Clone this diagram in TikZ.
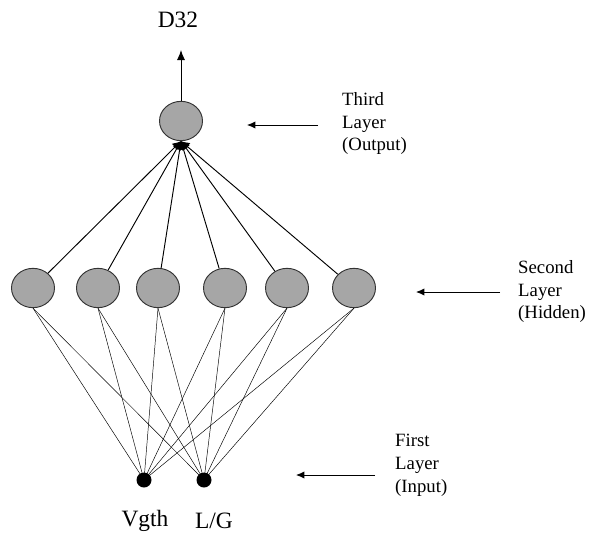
\documentclass[tikz,border=0pt]{standalone}
\usepackage{fontspec}
\setmainfont{Liberation Serif}
\usetikzlibrary{shapes.geometric,arrows.meta}

\begin{document}
\begin{tikzpicture}[x=0.03cm,y=-0.03cm]
        \tikzstyle{neuron}=[ellipse,draw=black!80,fill=black!35,thick,minimum width=1.29cm,minimum height=1.18cm,inner sep=0pt]
        \tikzstyle{input}=[circle,fill=black,minimum size=0.45cm,inner sep=0pt]
        \tikzstyle{layertext}=[anchor=north west,align=left,inner sep=0pt,font=\fontsize{16}{19.5}\selectfont]
        \tikzstyle{bigtext}=[font=\fontsize{20}{24}\selectfont]

      \useasboundingbox (0,0) rectangle (590,535);

      \begin{scope}
         % output layer
         \node[neuron] (o1) at (181,121) {};
         \coordinate (out) at (181,50);
         \node[bigtext] (d32) at (178,20) {D32};
         \draw[thick,-{Latex[length=3mm,width=2.4mm]}] (o1) to (out);

         % hidden layer
         \node[neuron] (h1) at (33,288)  {};
         \node[neuron] (h2) at (98,288)  {};
         \node[neuron] (h3) at (158,288) {};
         \node[neuron] (h4) at (225,288) {};
         \node[neuron] (h5) at (287,288) {};
         \node[neuron] (h6) at (354,288) {};

         % input layer
         \node[input] (i1) at (144,480) {};
         \node[input] (i2) at (204,480) {};
         \node[bigtext] (vgth) at (145,521) {Vgth};
         \node[bigtext] (lg)   at (214,521) {L/G};

         \draw[thick,-{Latex[length=2.5mm,width=2.8mm]}] (h1) to (o1.south);
         \draw[thick,-{Latex[length=2.5mm,width=2.8mm]}] (h2) to (o1.south);
         \draw[thick,-{Latex[length=2.5mm,width=2.8mm]}] (h3) to (o1.south);
         \draw[thick,-{Latex[length=2.5mm,width=2.8mm]}] (h4) to (o1.south);
         \draw[thick,-{Latex[length=2.5mm,width=2.8mm]}] (h5) to (o1.south);
         \draw[thick,-{Latex[length=2.5mm,width=2.8mm]}] (h6) to (o1.south);

         \draw (i1.center) to (h1.south);
         \draw (i1.center) to (h2.south);
         \draw (i1.center) to (h3.south);
         \draw (i1.center) to (h4.south);
         \draw (i1.center) to (h5.south);
         \draw (i1.center) to (h6.south);
         \draw (i2.center) to (h1.south);
         \draw (i2.center) to (h2.south);
         \draw (i2.center) to (h3.south);
         \draw (i2.center) to (h4.south);
         \draw (i2.center) to (h5.south);
         \draw (i2.center) to (h6.south);

         % layer labels
         \node[layertext] (t3) at (342,92)  {Third\\Layer\\(Output)};
         \node[layertext] (t2) at (518,260) {Second\\Layer\\(Hidden)};
         \node[layertext] (t1) at (395,434) {First\\Layer\\(Input)};

         \coordinate (a3s) at (318,125);
         \coordinate (a3e) at (247,125);
         \coordinate (a2s) at (500,292);
         \coordinate (a2e) at (416,292);
         \coordinate (a1s) at (375,475);
         \coordinate (a1e) at (296,475);
         \draw[thick,-{Latex[length=2.5mm,width=2.2mm]}] (a3s) to (a3e);
         \draw[thick,-{Latex[length=2.5mm,width=2.2mm]}] (a2s) to (a2e);
         \draw[thick,-{Latex[length=2.5mm,width=2.2mm]}] (a1s) to (a1e);
      \end{scope}
    \end{tikzpicture}
\end{document}
